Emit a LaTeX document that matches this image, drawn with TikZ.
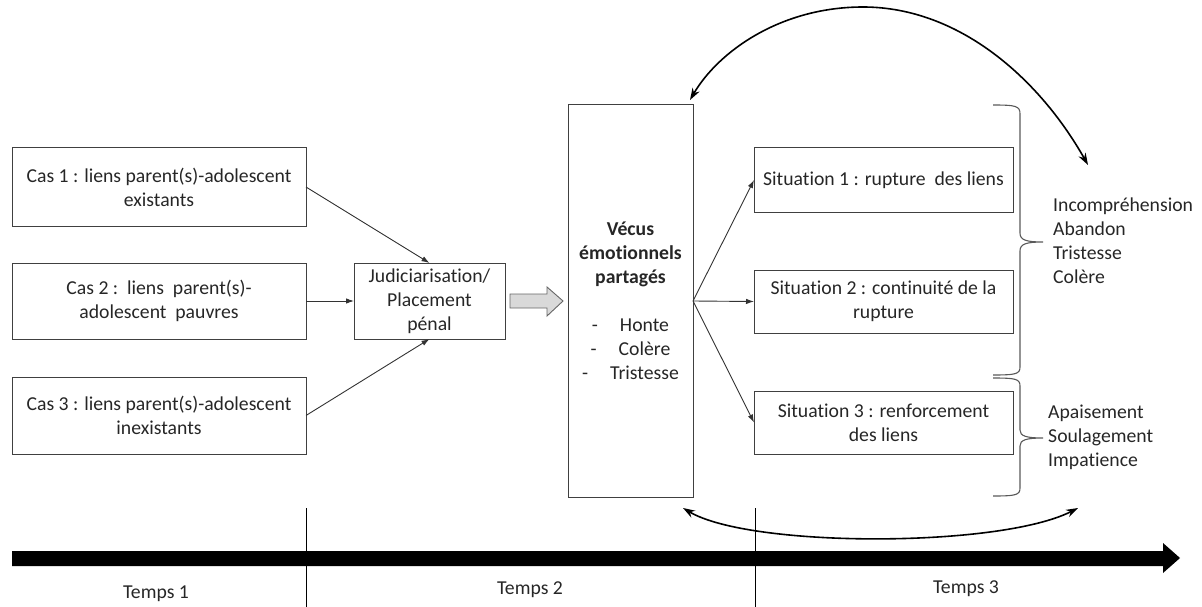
\documentclass[tikz,border=0pt]{standalone}
\usepackage{fontspec}
\setmainfont{Carlito}[Ligatures=NoCommon]
\usetikzlibrary{arrows.meta}
\begin{document}
\begin{tikzpicture}[x=1pt,y=-1pt,
  font=\fontsize{19.7}{24}\selectfont,
  box/.style={draw=black!75, line width=1pt, align=center, inner sep=0pt, outer sep=0pt, text=black!85},
  conn/.style={draw=black!80, line width=0.9pt, -{Latex[length=8pt,width=5.5pt]}},
  bigarc/.style={draw=black, line width=1.6pt, {Stealth[length=12pt,width=8pt]}-{Stealth[length=12pt,width=8pt]}},
  brace/.style={draw=black!65, line width=1.1pt},
  lab/.style={text=black!85, inner sep=0pt, align=left, anchor=west},
  tlab/.style={text=black!85, inner sep=0pt}
]
\useasboundingbox (0,0) rectangle (1202,607);

% left boxes
\node[box, minimum width=294pt, minimum height=78pt] (cas1) at (159,187) {Cas 1 : liens parent(s)-adolescent\\existants};
\node[box, minimum width=294pt, minimum height=76pt] (cas2) at (159,301) {Cas 2 :\ \ liens\ \ parent(s)-\\adolescent\ \ pauvres};
\node[box, minimum width=294pt, minimum height=77pt] (cas3) at (159,415.5) {Cas 3 : liens parent(s)-adolescent\\inexistants};

\node[box, minimum width=151pt, minimum height=76pt] (jud) at (429.5,301) {Judiciarisation/\\Placement\\p\'enal};

\node[box, minimum width=125pt, minimum height=392pt] (vecus) at (630.5,301)
  {\textbf{Vécus}\\\textbf{émotionnels}\\\textbf{partagés}\\[24pt]
   -\hspace{22pt}Honte\\-\hspace{22pt}Colère\\-\hspace{22pt}Tristesse};

% block arrow between jud and vecus
\draw[draw=black!60, fill=black!15, line width=0.9pt, line join=miter]
  ([xshift=5pt,yshift=-7pt]jud.east) -- ([xshift=-21pt,yshift=-7pt]vecus.west)
  -- ([xshift=-21pt,yshift=-15pt]vecus.west) -- ([xshift=-5pt]vecus.west)
  -- ([xshift=-21pt,yshift=14pt]vecus.west) -- ([xshift=-21pt,yshift=7pt]vecus.west)
  -- ([xshift=5pt,yshift=7pt]jud.east) -- cycle;

% situation boxes
\node[box, minimum width=259pt, minimum height=64pt] (sit1) at (883.5,180) {Situation 1 : rupture\ \ des liens};
\node[box, minimum width=259pt, minimum height=63pt] (sit2) at (883.5,301.5) {Situation 2 : continuité de la\\rupture};
\node[box, minimum width=259pt, minimum height=63pt] (sit3) at (883.5,422.5) {Situation 3 : renforcement\\des liens};

% connectors
\draw[conn] (cas1.east) -- (jud.north);
\draw[conn] (cas2.east) -- (jud.west);
\draw[conn] (cas3.east) -- (jud.south);
\draw[conn] (vecus.east) -- (sit1.west);
\draw[conn] (vecus.east) -- (sit2.west);
\draw[conn] (vecus.east) -- (sit3.west);

% braces
\draw[brace] (993,105) .. controls (1016,105) and (1020,106) .. (1020,114) -- (1020,233)
  .. controls (1020,240) and (1026,242) .. (1043,242)
  .. controls (1026,242) and (1020,244) .. (1020,251) -- (1020,367)
  .. controls (1020,374) and (1016,375) .. (993,375);
\draw[brace] (993,378) .. controls (1016,378) and (1020,379) .. (1020,386) -- (1020,430)
  .. controls (1020,436) and (1026,438) .. (1043,438)
  .. controls (1026,438) and (1020,440) .. (1020,446) -- (1020,488)
  .. controls (1020,495) and (1016,496) .. (993,496);

% right labels
\node[lab] (emo1) at (1053,240.5) {Incompréhension\\Abandon\\Tristesse\\Colère};
\node[lab] (emo2) at (1048,437.5) {Apaisement\\Soulagement\\Impatience};

% big arcs
\coordinate (tl) at (690,100);
\coordinate (tr) at (1088,165);
\coordinate (bl) at (683,508);
\coordinate (br) at (1078,508);
\draw[bigarc] (tl) .. controls (718,52) and (780,7) .. (863,7)
  .. controls (960,7) and (1040,80) .. (tr);
\draw[bigarc] (bl) .. controls (750,548) and (1000,548) .. (br);

% timeline
\fill[black] (12,551) -- (1163,551) -- (1163,543) -- (1180,558) -- (1163,573) -- (1163,566) -- (12,566) -- cycle;
\draw[line width=0.8pt] (306,508) -- (306,607);
\draw[line width=0.8pt] (755,508) -- (755,607);

\node[tlab] (t1) at (156,594) {Temps 1};
\node[tlab] (t2) at (530,590) {Temps 2};
\node[tlab] (t3) at (966,589) {Temps 3};
\end{tikzpicture}
\end{document}
